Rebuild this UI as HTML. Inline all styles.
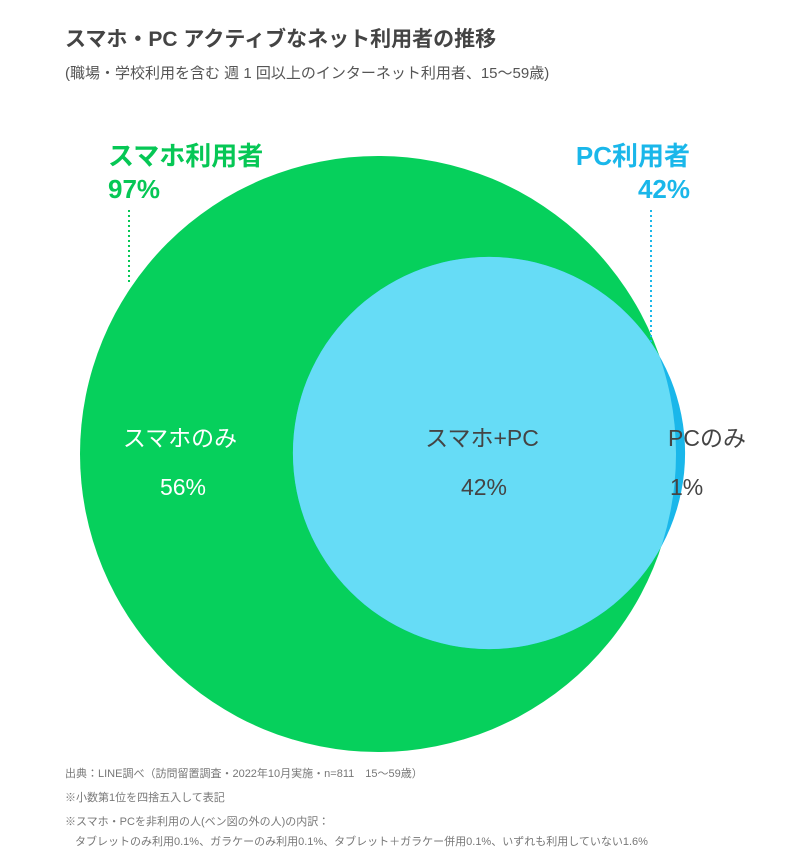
<!DOCTYPE html>
<html><head><meta charset="utf-8"><style>
body{margin:0;width:799px;height:857px;background:#fff;overflow:hidden;font-family:"Liberation Sans","Noto Sans CJK JP",sans-serif;}
</style></head><body>
<svg width="799" height="857" style="font-family:'Liberation Sans','Noto Sans CJK JP',sans-serif">
<text x="65" y="46" font-size="21" font-weight="bold" fill="#444">スマホ・PC アクティブなネット利用者の推移</text>
<text x="65" y="78" font-size="15" fill="#555">(職場・学校利用を含む 週 1 回以上のインターネット利用者、15〜59歳)</text>
<defs><clipPath id="gc"><circle id="gcirc" cx="378" cy="454" r="298"/></clipPath></defs>
<g id="venn"></g>
<line x1="129" y1="210" x2="129" y2="282" stroke="#06c755" stroke-width="2" stroke-dasharray="2,3"/>
<line x1="651" y1="210" x2="651" y2="345" stroke="#1ab7ea" stroke-width="2" stroke-dasharray="2,3"/>
<text x="108" y="165" font-size="26" font-weight="bold" fill="#06c755">スマホ利用者</text>
<text x="108" y="198" font-size="26" font-weight="bold" fill="#06c755" id="v-sp"></text>
<text x="690" y="165" font-size="26" font-weight="bold" fill="#1ab7ea" text-anchor="end">PC利用者</text>
<text x="690" y="198" font-size="26" font-weight="bold" fill="#1ab7ea" text-anchor="end" id="v-pc"></text>
<text x="180" y="446" font-size="23" fill="#fff" text-anchor="middle">スマホのみ</text>
<text x="183" y="495" font-size="23" fill="#fff" text-anchor="middle" id="v-so"></text>
<text x="482" y="446" font-size="23" fill="#444" text-anchor="middle">スマホ+PC</text>
<text x="484" y="495" font-size="23" fill="#444" text-anchor="middle" id="v-both"></text>
<text x="668" y="446" font-size="23" fill="#444">PCのみ</text>
<text x="670" y="495" font-size="23" fill="#444" id="v-po"></text>
<g font-size="11" fill="#777">
<text x="65" y="777">出典：LINE調べ（訪問留置調査・2022年10月実施・n=811　15〜59歳）</text>
<text x="65" y="801">※小数第1位を四捨五入して表記</text>
<text x="65" y="825">※スマホ・PCを非利用の人(ベン図の外の人)の内訳：</text>
<text x="75" y="845">タブレットのみ利用0.1%、ガラケーのみ利用0.1%、タブレット＋ガラケー併用0.1%、いずれも利用していない1.6%</text>
</g>
</svg>
<script>
const sets=["smartphone","pc"];
const setValues=[97,42];
const regionValues=[56,42,1];
const ns="http://www.w3.org/2000/svg";
const g=document.getElementById("venn");
// radius scale: area proportional to value
const rScale=v=>298*Math.sqrt(v/setValues[0]);
const gr=rScale(setValues[0]), pr=rScale(setValues[1]);
const gc=document.createElementNS(ns,"circle");
gc.setAttribute("cx",378);gc.setAttribute("cy",454);gc.setAttribute("r",gr);gc.setAttribute("fill","#06d05c");


g.appendChild(gc);
const pcx=378+gr-pr+ (pr*1.0-109) + (setValues[1]/42*0);
const pc=document.createElementNS(ns,"circle");
pc.setAttribute("cx",489);pc.setAttribute("cy",453);pc.setAttribute("r",pr);pc.setAttribute("fill","#1ab7ea");


g.appendChild(pc);
const inter=document.createElementNS(ns,"circle");
inter.setAttribute("cx",489);inter.setAttribute("cy",453);inter.setAttribute("r",pr);inter.setAttribute("fill","#66dcf6");inter.setAttribute("clip-path","url(#gc)");


g.appendChild(inter);
document.getElementById("v-sp").textContent=setValues[0]+"%";
document.getElementById("v-pc").textContent=setValues[1]+"%";
document.getElementById("v-so").textContent=regionValues[0]+"%";
document.getElementById("v-both").textContent=regionValues[1]+"%";
document.getElementById("v-po").textContent=regionValues[2]+"%";
</script>
</body></html>
